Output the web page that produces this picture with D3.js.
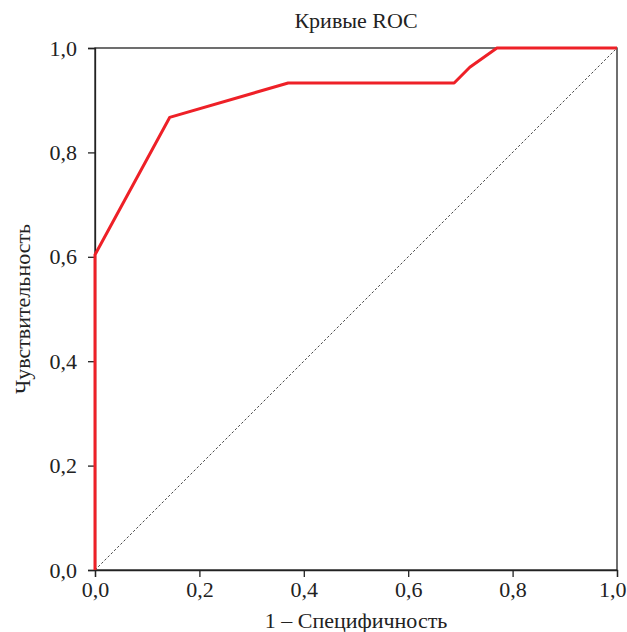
<!DOCTYPE html>
<html lang="ru">
<head>
<meta charset="UTF-8">
<title>Кривые ROC</title>
<style>
    * { margin:0; padding:0; box-sizing:border-box; }
    body { background:#fff; }
    svg text { font-family:"Liberation Serif","DejaVu Serif",serif; fill:#222; }
</style>
<script src="https://unpkg.com/d3@7.6.1/dist/d3.min.js"></script>
</head>
<body>
<div id="chart"></div>
<script>
    // ROC curve points (1 - specificity, sensitivity)
    const fpr=[0, 0, 0.143, 0.37, 0.688, 0.718, 0.77, 1.0];
    const tpr=[0, 0.604, 0.867, 0.933, 0.933, 0.963, 1.0, 1.0];
    const ticks=[0, 0.2, 0.4, 0.6, 0.8, 1.0];
    const title="Кривые ROC";
    const xLabel="1 – Специфичность";
    const yLabel="Чувствительность";

    const width=627;
    const height=632;
    const marginTop=48;
    const marginRight=10;
    const marginBottom=62;
    const marginLeft=95;
    const fontSize=22;

    const fmt=d=>d3.format(".1f")(d).replace(".",",");

    const x=d3.scaleLinear([0,1],[marginLeft,width-marginRight]);
    const y=d3.scaleLinear([0,1],[height-marginBottom,marginTop]);

    const svg=d3.select("#chart").append("svg")
        .attr("width",width)
        .attr("height",height);

    // frame
    svg.append("rect")
        .attr("x",x(0)).attr("y",y(1))
        .attr("width",x(1)-x(0)).attr("height",y(0)-y(1))
        .attr("fill","none").attr("stroke","#222").attr("stroke-width",1.3);

    svg.append("g")
        .attr("transform",`translate(0,${y(0)})`)
        .call(d3.axisBottom(x).tickValues(ticks).tickFormat(fmt).tickSizeOuter(0).tickSize(7).tickPadding(4))
        .call(g=>g.select(".domain").attr("stroke","#222").attr("stroke-width",1.3))
        .call(g=>g.selectAll(".tick line").attr("stroke","#222").attr("stroke-width",1.3))
        .call(g=>g.selectAll("text").attr("font-size",fontSize).attr("font-family","Liberation Serif, serif").attr("fill","#222"))
        // keep the last label inside the window
        .call(g=>g.selectAll(".tick text").filter(d=>d===1).attr("text-anchor","end").attr("dx",width-1-x(1)));

    svg.append("g")
        .attr("transform",`translate(${x(0)},0)`)
        .call(d3.axisLeft(y).tickValues(ticks).tickFormat(fmt).tickSizeOuter(0).tickSize(7).tickPadding(11))
        .call(g=>g.select(".domain").attr("stroke","#222").attr("stroke-width",1.3))
        .call(g=>g.selectAll(".tick line").attr("stroke","#222").attr("stroke-width",1.3))
        .call(g=>g.selectAll("text").attr("font-size",fontSize).attr("font-family","Liberation Serif, serif").attr("fill","#222"));

    // reference diagonal
    svg.append("line")
        .attr("x1",x(0)).attr("y1",y(0))
        .attr("x2",x(1)).attr("y2",y(1))
        .attr("stroke","#333").attr("stroke-width",0.9)
        .attr("stroke-dasharray","2.5,2");

    svg.append("path")
        .datum(fpr.map((d,i)=>[d,tpr[i]]))
        .attr("fill","none")
        .attr("stroke","#ee2027")
        .attr("stroke-width",3)
        .attr("stroke-linejoin","round")
        .attr("d",d3.line().x(d=>x(d[0])).y(d=>y(d[1])));

    svg.append("text")
        .attr("x",(x(0)+x(1))/2).attr("y",28)
        .attr("text-anchor","middle").attr("font-size",fontSize)
        .text(title);

    svg.append("text")
        .attr("x",(x(0)+x(1))/2).attr("y",628)
        .attr("text-anchor","middle").attr("font-size",fontSize)
        .text(xLabel);

    svg.append("text")
        .attr("transform",`translate(30,${(y(0)+y(1))/2}) rotate(-90)`)
        .attr("text-anchor","middle").attr("font-size",fontSize)
        .text(yLabel);
</script>
</body>
</html>
